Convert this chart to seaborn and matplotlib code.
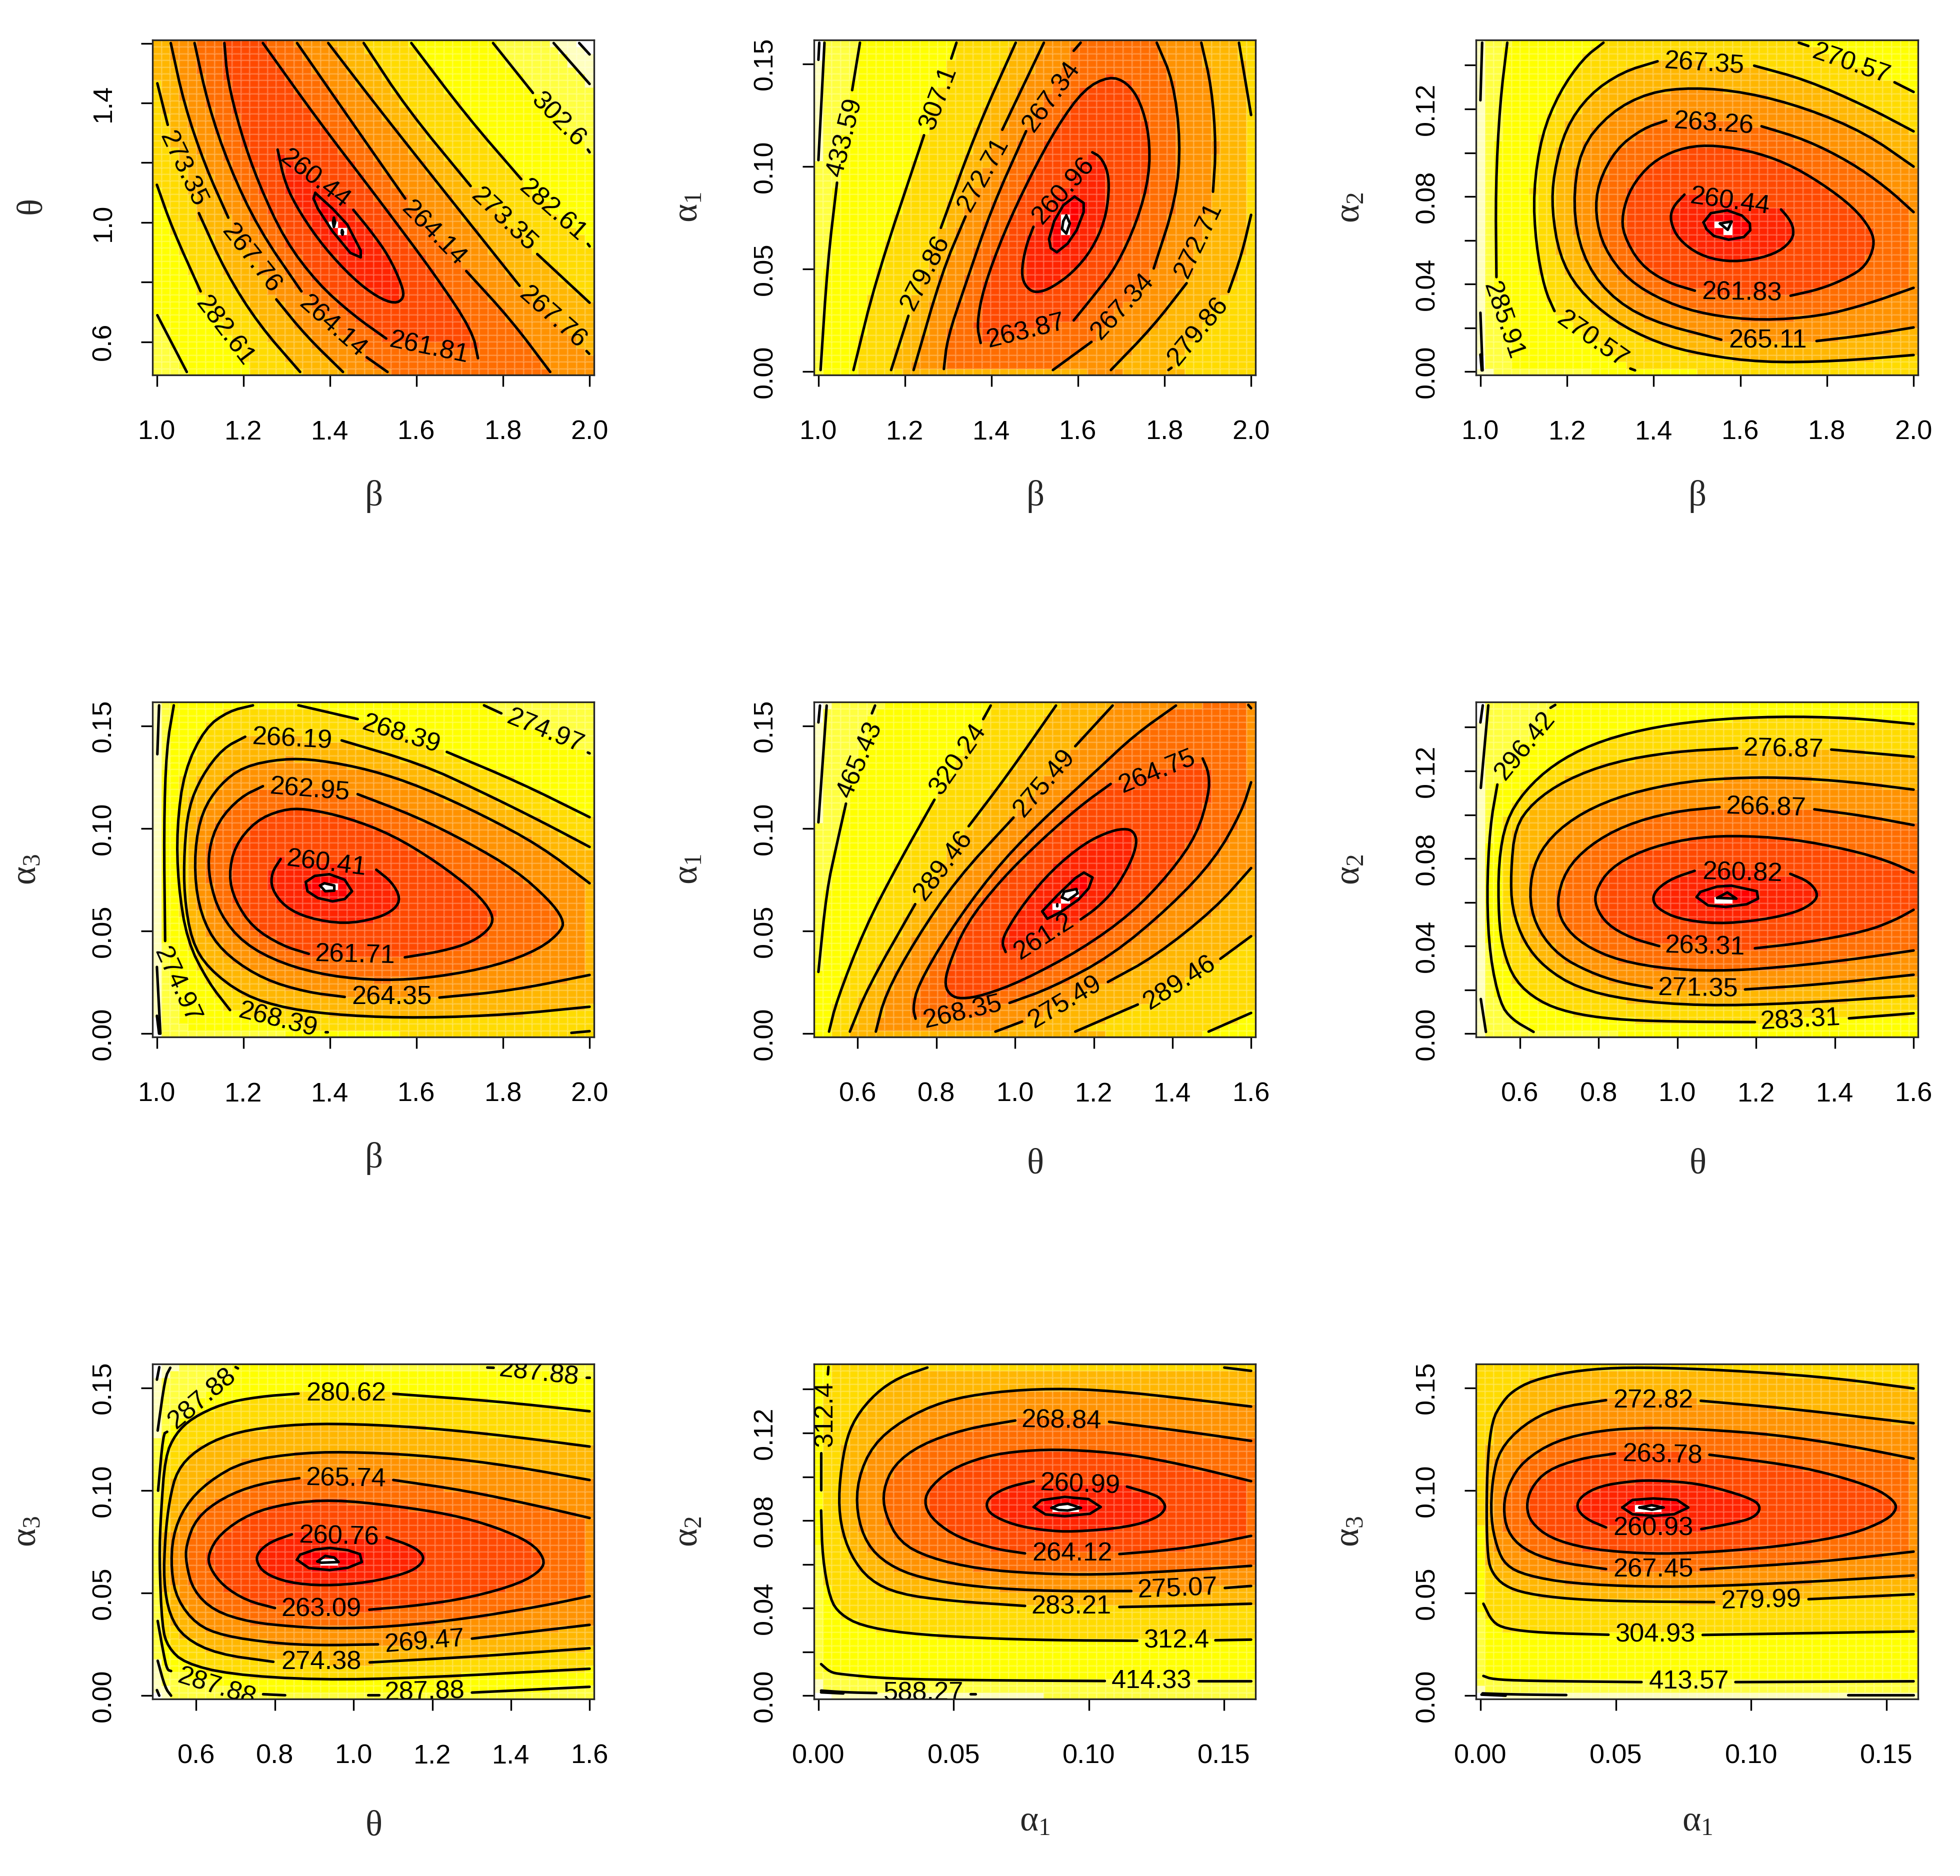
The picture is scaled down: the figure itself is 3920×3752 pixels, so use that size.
import numpy as np
import pandas as pd
import matplotlib
matplotlib.use('Agg')
import matplotlib.pyplot as plt
import matplotlib.tri as mtri
from matplotlib.colors import ListedColormap
import seaborn as sns

# ==============================================================
# axis ranges, ticks, colours
# ==============================================================
BETA = (1.0, 2.0)
THETA = (0.5, 1.6)
ALPHA_LONG = (0.0, 0.16)
ALPHA_SHORT = (0.0, 0.15)

BETA_TICKS = [1.0, 1.2, 1.4, 1.6, 1.8, 2.0]
BETA_LABELS = ['1.0', '1.2', '1.4', '1.6', '1.8', '2.0']
THETA_TICKS = [0.6, 0.8, 1.0, 1.2, 1.4, 1.6]
THETA_LABELS = ['0.6', '0.8', '1.0', '1.2', '1.4', '1.6']
THETA_Y_LABELS = ['0.6', '', '1.0', '', '1.4', '']
ALPHA_TICKS = [0.0, 0.05, 0.10, 0.15]
ALPHA_LABELS = ['0.00', '0.05', '0.10', '0.15']
ALPHA2_TICKS = [0.0, 0.02, 0.04, 0.06, 0.08, 0.10, 0.12, 0.14]
ALPHA2_LABELS = ['0.00', '', '0.04', '', '0.08', '', '0.12', '']

HEAT = ['#FF0000', '#FF2400', '#FF4900', '#FF6D00', '#FF9200', '#FFB600',
        '#FFDB00', '#FFFF00', '#FFFF40', '#FFFFBF', '#FFFFFF']

# ==============================================================
# contours: (band rank, points)
# rank 0 is the innermost contour of a panel, counted outwards
# HIDDEN = stretches of a contour that sit under a label at the frame
# ==============================================================

# ---- beta / theta
P1_LINES = [
    (0, [(1.409, 1.016), (1.407, 1.0), (1.409, .985), (1.412, 1.0), (1.409, 1.016)]),
    (0, [(1.428, .974), (1.427, .965), (1.429, .959), (1.430, .968), (1.428, .974)]),
    (1, [(1.366, 1.099), (1.406, 1.046), (1.44, .993), (1.471, .906), (1.471, .883), (1.447, .898), (1.406, .970), (1.372, 1.046), (1.362, 1.080), (1.366, 1.099)]),
    (2, [(1.279, 1.244), (1.296, 1.130), (1.331, 1.031), (1.386, .917), (1.454, .811), (1.509, .750), (1.55, .727), (1.571, .746), (1.567, .788), (1.536, .887), (1.495, .970), (1.454, 1.042)]),
    (3, [(1.156, 1.601), (1.163, 1.479), (1.193, 1.305), (1.235, 1.130), (1.296, .940), (1.372, .795), (1.454, .689), (1.530, .611)]),
    (3, [(1.245, 1.601), (1.372, 1.343), (1.509, 1.084), (1.646, .818), (1.729, .636), (1.742, .545)]),
    (4, [(1.087, 1.601), (1.118, 1.396), (1.166, 1.191), (1.235, .978), (1.334, .769)]),
    (4, [(1.485, .548), (1.533, .499)]),
    (4, [(1.324, 1.601), (1.44, 1.358), (1.574, 1.080)]),
    (4, [(1.715, .837), (1.818, .674), (1.909, .499)]),
    (5, [(1.032, 1.601), (1.063, 1.396), (1.111, 1.191), (1.165, 1.016)]),
    (5, [(1.276, .742), (1.344, .621), (1.43, .499)]),
    (5, [(1.396, 1.601), (1.509, 1.388), (1.646, 1.137), (1.838, .788)]),
    (5, [(1.993, .569), (1.999, .56)]),
    (6, [(1.001, 1.466), (1.025, 1.327)]),
    (6, [(1.097, 1.031), (1.159, .833), (1.235, .659), (1.331, .499)]),
    (6, [(1.478, 1.601), (1.578, 1.381), (1.725, 1.122)]),
    (6, [(1.879, .894), (2.0, .731)]),
    (7, [(1.0, 1.126), (1.036, .978), (1.101, .769)]),
    (7, [(1.588, 1.601), (1.715, 1.358), (1.842, 1.145)]),
    (7, [(1.996, .928), (2.0, .92)]),
    (8, [(1.001, .689), (1.069, .499)]),
    (8, [(1.777, 1.601), (1.869, 1.434)]),
    (8, [(1.996, 1.244), (2.0, 1.235)]),
    (9, [(1.917, 1.601), (2.0, 1.464)]),
    (10, [(1.976, 1.601), (2.0, 1.563)]),
]
P1_HIDDEN = [(7, [(1.101, .769), (1.214, .499)])]
P1_CORNERS = [8.6, 4.6, 5.7, 11.0]
P1_MIN_CELLS = [(1.407, .993), (1.428, .972)]
P1_LABELS = [
    ('273.35', 1.060, 1.179, -64.5), ('267.76', 1.217, .879, -51.8), ('282.61', 1.156, .636, -52.9),
    ('264.14', 1.406, .651, -41.3), ('261.81', 1.629, .579, -11.6), ('260.44', 1.365, 1.145, -37.4),
    ('264.14', 1.639, .963, -45.4), ('273.35', 1.801, 1.008, -43.3), ('282.61', 1.914, 1.039, -41.3),
    ('267.76', 1.914, .681, -41.3), ('302.6', 1.927, 1.343, -45.4),
]

# ---- beta / alpha1
P2_LINES = [
    (0, [(1.573, .0761), (1.581, .0723), (1.573, .0673), (1.563, .0695), (1.566, .0734), (1.573, .0761)]),
    (1, [(1.592, .0853), (1.613, .0822), (1.613, .0778), (1.597, .0690), (1.576, .0624), (1.551, .0582), (1.537, .0602), (1.533, .0646), (1.545, .0734), (1.566, .0811), (1.592, .0853)]),
    (2, [(1.497, .0706), (1.480, .0613), (1.470, .0503), (1.473, .0437), (1.490, .0393), (1.510, .0387), (1.539, .0409), (1.587, .0481), (1.631, .0591), (1.662, .0734), (1.672, .0877), (1.669, .0976), (1.652, .1047), (1.633, .1069)]),
    (3, [(1.375, .0140), (1.366, .0228), (1.381, .0404), (1.429, .0679), (1.490, .0954), (1.552, .1196), (1.614, .1377), (1.672, .1440), (1.713, .1410), (1.744, .1317), (1.765, .1152), (1.765, .0954), (1.737, .0734), (1.689, .0514), (1.641, .0382), (1.590, .0250)]),
    (4, [(1.29, .0013), (1.298, .0162), (1.34, .0426), (1.401, .0800), (1.48, .1172)]),
    (4, [(1.59, .1564), (1.606, .1603)]),
    (4, [(1.782, .1603), (1.82, .1416), (1.837, .1119), (1.827, .0844), (1.775, .0503)]),
    (4, [(1.631, .0145), (1.542, .0008)]),
    (5, [(1.22, .0008), (1.285, .0481), (1.34, .0756)]),
    (5, [(1.425, .1179), (1.521, .1603)]),
    (5, [(1.885, .1603), (1.909, .1383), (1.919, .1097), (1.912, .0877)]),
    (5, [(1.851, .0431), (1.772, .0217), (1.676, .0008)]),
    (6, [(1.168, .0008), (1.208, .0272)]),
    (6, [(1.283, .0701), (1.367, .1185), (1.456, .1603)]),
    (6, [(1.972, .1603), (2.0, .1251)]),
    (6, [(2.0, .0764), (1.978, .0569), (1.948, .0389)]),
    (6, [(1.809, .0008), (1.816, .0019)]),
    (7, [(1.081, .0008), (1.134, .0459), (1.244, .1152)]),
    (7, [(1.307, .1526), (1.319, .1603)]),
    (8, [(1.005, .0008), (1.021, .0525), (1.043, .0921)]),
    (8, [(1.078, .1372), (1.096, .1603)]),
    (9, [(1.0, .1031), (1.014, .1603)]),
    (10, [(1.0, .152), (1.002, .1603)]),
]
P2_HIDDEN = []
P2_CORNERS = [8.5, 6.7, 10.5, 6.3]
P2_MIN_CELLS = [(1.571, .0761), (1.571, .0734), (1.571, .0712), (1.571, .0686)]
P2_LABELS = [
    ('433.59', 1.062, .1141, 75.7), ('307.1', 1.278, .1333, 69.3), ('272.71', 1.381, .0959, 61),
    ('267.34', 1.539, .1339, 54.2), ('279.86', 1.247, .0481, 63.4), ('260.96', 1.566, .0882, 48.5),
    ('263.87', 1.48, .0195, 13.9), ('267.34', 1.703, .0316, 47.5), ('272.71', 1.878, .0640, 64.5),
    ('279.86', 1.878, .0195, 50.7),
]

# ---- beta / alpha2
P3_LINES = [
    (0, [(1.553, .0677), (1.58, .0686), (1.571, .0648), (1.553, .0677)]),
    (1, [(1.515, .0682), (1.532, .0724), (1.570, .0737), (1.604, .0713), (1.622, .0677), (1.623, .0646), (1.608, .0615), (1.573, .0603), (1.539, .0620), (1.522, .0651), (1.515, .0682)]),
    (2, [(1.471, .0809), (1.443, .0750), (1.438, .0688), (1.457, .0605), (1.505, .0533), (1.567, .0502), (1.635, .0512), (1.690, .0548), (1.721, .0605), (1.723, .0657), (1.711, .0703), (1.694, .0741)]),
    (3, [(1.495, .0370), (1.429, .0409), (1.368, .0491), (1.330, .0626), (1.327, .0719), (1.347, .0842), (1.395, .0956), (1.457, .1018), (1.525, .1037), (1.615, .1013), (1.704, .0956), (1.786, .0863), (1.862, .0750), (1.903, .0646), (1.91, .0574), (1.889, .0481), (1.848, .0429), (1.786, .0378), (1.716, .0347)]),
    (4, [(1.429, .1147), (1.375, .1111), (1.313, .1018), (1.272, .0863), (1.265, .0719), (1.285, .0564), (1.34, .0419), (1.429, .0316), (1.525, .0259), (1.649, .0233), (1.786, .0254), (1.889, .0306), (2.0, .0383)]),
    (4, [(1.649, .1121), (1.752, .1059), (1.855, .0956), (1.937, .0842), (2.0, .0729)]),
    (5, [(2.0, .0937), (1.889, .1090), (1.752, .1204), (1.615, .1276), (1.491, .1299), (1.388, .1276), (1.299, .1183), (1.23, .1018), (1.213, .0760), (1.234, .0533), (1.292, .0357), (1.388, .0233), (1.556, .0146)]),
    (5, [(1.776, .0140), (1.889, .0166), (2.0, .0202)]),
    (6, [(2.0, .1098), (1.889, .1214), (1.752, .1333), (1.632, .1398)]),
    (6, [(1.409, .1418), (1.327, .1369), (1.251, .1266), (1.196, .1111), (1.169, .0904), (1.165, .0739), (1.182, .0533), (1.224, .0378), (1.306, .0233), (1.409, .0130), (1.512, .0078), (1.649, .0042), (1.82, .0047), (2.0, .0076)]),
    (7, [(1.284, .1503), (1.237, .1431), (1.182, .1276), (1.141, .1080), (1.122, .0822), (1.128, .0584), (1.148, .0378), (1.171, .0277)]),
    (7, [(1.346, .0014), (1.357, .0006)]),
    (7, [(1.735, .1503), (1.757, .1488)]),
    (7, [(1.956, .1322), (2.0, .1278)]),
    (8, [(1.062, .1503), (1.045, .1224), (1.035, .0842), (1.037, .0432)]),
    (9, [(1.004, .1503), (1.0, .1240)]),
    (9, [(1.0, .0269), (1.005, .0006)]),
    (10, [(1.0, .0078), (1.003, .0006)]),
]
P3_HIDDEN = [(8, [(1.037, .0432), (1.073, .0006)])]
P3_CORNERS = [10.5, 6.4, 9.5, 7.5]
P3_MIN_CELLS = [(1.552, .0675), (1.571, .0675), (1.571, .0651)]
P3_LABELS = [
    ('267.35', 1.517, .1405, -3.8), ('270.57', 1.855, .1405, -18.8), ('263.26', 1.538, .1131, -3.8),
    ('260.44', 1.576, .0775, -7.7), ('261.83', 1.604, .0359, -1), ('265.11', 1.663, .0140, 0),
    ('270.57', 1.258, .0146, -35), ('285.91', 1.052, .0233, -71),
]

# ---- beta / alpha3
P4_LINES = [
    (0, [(1.377, .0722), (1.387, .0733), (1.41, .0722), (1.41, .0697), (1.389, .0694), (1.377, .0722)]),
    (1, [(1.344, .0739), (1.365, .0769), (1.399, .0777), (1.434, .0750), (1.451, .0694), (1.434, .0656), (1.406, .0645), (1.372, .0661), (1.348, .0694), (1.344, .0739)]),
    (2, [(1.286, .0851), (1.265, .0783), (1.265, .0705), (1.296, .0617), (1.351, .0562), (1.434, .0534), (1.509, .0562), (1.55, .0606), (1.563, .0661), (1.543, .0739), (1.507, .0799)]),
    (3, [(1.351, .0389), (1.289, .0429), (1.221, .0518), (1.18, .0650), (1.166, .0772), (1.18, .0915), (1.228, .1037), (1.289, .1092), (1.344, .1097), (1.44, .1053), (1.543, .0970), (1.646, .0838), (1.735, .0694), (1.777, .0584), (1.773, .0518), (1.729, .0446), (1.66, .0402), (1.573, .0372)]),
    (4, [(1.245, .1206), (1.193, .1153), (1.142, .1037), (1.119, .0893), (1.121, .0750), (1.145, .0584), (1.2, .0440), (1.289, .0341), (1.40, .0280), (1.523, .0258), (1.646, .0275), (1.783, .0330), (1.886, .0413), (1.938, .0507), (1.938, .0562), (1.907, .0650), (1.831, .0794), (1.715, .0937), (1.598, .1059), (1.464, .1167)]),
    (5, [(2.0, .0733), (1.886, .0915), (1.749, .1070), (1.612, .1202), (1.495, .1285), (1.372, .1335), (1.289, .1340), (1.2, .1302), (1.145, .1213), (1.104, .1081), (1.087, .0893), (1.091, .0672), (1.118, .0496), (1.166, .0374), (1.248, .0264), (1.344, .0203), (1.434, .0179)]),
    (5, [(1.653, .0176), (1.818, .0209), (2.0, .0286)]),
    (6, [(2.0, .0910), (1.886, .1037), (1.749, .1180), (1.612, .1313), (1.427, .1429)]),
    (6, [(1.204, .1447), (1.152, .1390), (1.104, .1257), (1.073, .1103), (1.063, .0893), (1.063, .0672), (1.08, .0452), (1.118, .0319), (1.2, .0187), (1.303, .0120), (1.44, .0087), (1.612, .0076), (1.818, .0093), (2.0, .0131)]),
    (7, [(1.222, .1600), (1.166, .1572), (1.111, .1489), (1.063, .1280), (1.046, .1004), (1.049, .0728), (1.07, .0452), (1.118, .0253), (1.169, .0115)]),
    (7, [(1.39, .0007), (1.394, .0007)]),
    (7, [(1.327, .1600), (1.464, .1533)]),
    (7, [(1.67, .1373), (1.838, .1224), (2.0, .1055)]),
    (7, [(1.958, .0004), (2.0, .0012)]),
    (8, [(1.039, .1600), (1.022, .1390), (1.016, .1004), (1.019, .0452)]),
    (8, [(1.756, .1600), (1.796, .1561)]),
    (8, [(1.996, .1370), (2.0, .1366)]),
    (9, [(1.005, .1600), (1.001, .1362)]),
    (9, [(1.0, .0325), (1.008, .0)]),
    (10, [(1.0, .0087), (1.005, .0)]),
]
P4_HIDDEN = [(8, [(1.019, .0452), (1.067, .0004)])]
P4_CORNERS = [10.5, 6.7, 9.2, 8.5]
P4_MIN_CELLS = [(1.389, .0722), (1.406, .0722)]
P4_LABELS = [
    ('266.19', 1.313, .1434, -3), ('268.39', 1.564, .1456, -17.2), ('274.97', 1.897, .1473, -22),
    ('262.95', 1.353, .1186, -4.6), ('260.41', 1.392, .0827, -6.9), ('261.71', 1.458, .0380, -1.5),
    ('264.35', 1.543, .0176, 0), ('268.39', 1.279, .0065, -13.9), ('274.97', 1.046, .0236, -65.4),
]

# ---- theta / alpha1
P5_LINES = [
    (0, [(1.119, .0664), (1.125, .0692), (1.156, .0705), (1.159, .0684), (1.135, .0651), (1.119, .0664)]),
    (0, [(1.107, .0631), (1.107, .0623)]),
    (1, [(1.069, .0596), (1.108, .0675), (1.153, .0758), (1.175, .0785), (1.197, .0761), (1.187, .0708), (1.161, .0653), (1.116, .0593), (1.082, .0560), (1.069, .0596)]),
    (2, [(.976, .0398), (.966, .0444), (.98, .0510), (1.025, .0642), (1.093, .0796), (1.176, .0928), (1.244, .0989), (1.286, .1000), (1.304, .0978), (1.31, .0928), (1.293, .0829), (1.252, .0697), (1.206, .0609), (1.167, .0557)]),
    (3, [(1.243, .1217), (1.169, .1115), (1.07, .0950), (.965, .0752), (.874, .0532), (.829, .0323), (.821, .0235), (.836, .0186), (.863, .0169), (.919, .0186), (1.018, .0257), (1.169, .0411), (1.297, .0587), (1.395, .0785), (1.463, .0972), (1.493, .1170), (1.493, .1269), (1.477, .1341)]),
    (4, [(.747, .0073), (.74, .0125), (.753, .0235), (.829, .0488), (.942, .0785), (1.055, .1016), (1.206, .1280), (1.304, .1456), (1.409, .1599)]),
    (4, [(.986, .0150), (1.093, .0224), (1.244, .0378), (1.395, .0620), (1.508, .0851), (1.576, .1082), (1.6, .1225)]),
    (4, [(1.593, .1602), (1.6, .1586)]),
    (5, [(.646, .0010), (.67, .0191), (.746, .0455), (.851, .0752), (.996, .1053)]),
    (5, [(1.153, .1401), (1.248, .1599)]),
    (5, [(.95, .0010), (1.018, .0059)]),
    (5, [(1.236, .0252), (1.357, .0378), (1.508, .0609), (1.6, .0807)]),
    (6, [(.58, .0010), (.625, .0224), (.746, .0631)]),
    (6, [(.882, .1011), (.98, .1258), (1.104, .1599)]),
    (6, [(1.153, .0010), (1.312, .0142)]),
    (6, [(1.522, .0365), (1.6, .0475)]),
    (7, [(.527, .0010), (.546, .0158), (.617, .0510), (.70, .0818), (.795, .1140)]),
    (7, [(.919, .1533), (.938, .1599)]),
    (7, [(1.492, .0010), (1.6, .0101)]),
    (8, [(.5, .0301), (.521, .0697), (.546, .0917), (.57, .1121)]),
    (8, [(.636, .1561), (.644, .1599)]),
    (9, [(.5, .1030), (.521, .1599)]),
    (10, [(.5, .1517), (.504, .1599)]),
]
P5_HIDDEN = []
P5_CORNERS = [7.5, 7.4, 10.5, 4.2]
P5_MIN_CELLS = [(1.129, .0692), (1.15, .0692), (1.107, .0626), (1.129, .0651)]
P5_LABELS = [
    ('465.43', .606, .1335, 67), ('320.24', .855, .1335, 55.3), ('275.49', 1.074, .1220, 49.6),
    ('264.75', 1.361, .1275, 22), ('289.46', .817, .0818, 52.9), ('261.2', 1.074, .0472, 32.6),
    ('268.35', .867, .0103, 13.1), ('275.49', 1.127, .0153, 30.8), ('289.46', 1.418, .0246, 32.6),
]

# ---- theta / alpha2
P6_LINES = [
    (0, [(1.101, .0620), (1.127, .0645), (1.15, .0617), (1.101, .0620)]),
    (1, [(1.049, .0624), (1.059, .0648), (1.101, .0672), (1.138, .0676), (1.202, .0651), (1.205, .0617), (1.176, .0591), (1.123, .0579), (1.078, .0586), (1.049, .0624)]),
    (2, [(1.044, .0744), (.988, .0710), (.95, .0664), (.936, .0617), (.95, .0571), (1.003, .0524), (1.101, .0501), (1.214, .0519), (1.304, .0555), (1.349, .0602), (1.357, .0643), (1.334, .0695), (1.287, .0730)]),
    (3, [(.954, .0400), (.882, .0437), (.822, .0498), (.792, .0581), (.792, .0653), (.829, .0756), (.912, .0839), (1.025, .0891), (1.138, .0906), (1.289, .0891), (1.44, .0839), (1.538, .0787), (1.6, .0736)]),
    (3, [(1.197, .0390), (1.327, .0416), (1.478, .0467), (1.553, .0519), (1.6, .0566)]),
    (4, [(1.107, .1035), (.988, .1014), (.867, .0953), (.776, .0860), (.716, .0746), (.693, .0602), (.709, .0498), (.761, .0406), (.852, .0333), (.988, .0292), (1.138, .0287), (1.289, .0308), (1.44, .0338), (1.6, .0380)]),
    (4, [(1.348, .1025), (1.478, .0994), (1.6, .0953)]),
    (5, [(1.6, .1115), (1.44, .1151), (1.289, .1169), (1.176, .1171), (1.025, .1154), (.874, .1097), (.761, .1014), (.678, .0901), (.633, .0767), (.624, .0602), (.648, .0467), (.701, .0354), (.776, .0282), (.852, .0235), (.935, .0209)]),
    (5, [(1.172, .0202), (1.365, .0225), (1.6, .0269)]),
    (6, [(1.152, .1305), (.988, .1288), (.837, .1241), (.716, .1159), (.633, .1056), (.588, .0942), (.577, .0736), (.58, .0571), (.611, .0416), (.663, .0302), (.746, .0209), (.874, .0153), (1.063, .0127), (1.289, .0137), (1.6, .0173)]),
    (6, [(1.391, .1298), (1.6, .1265)]),
    (7, [(1.6, .1415), (1.44, .1443), (1.251, .1450), (1.063, .1432), (.912, .1391), (.784, .1324), (.686, .1231), (.611, .1107), (.565, .0973), (.546, .0787), (.546, .0529), (.558, .0375), (.588, .0240), (.648, .0148), (.724, .0096), (.837, .0065), (.988, .0055), (1.197, .0053)]),
    (7, [(1.436, .0070), (1.6, .0093)]),
    (8, [(.543, .1138), (.524, .0942), (.516, .0633), (.524, .0354), (.55, .0137), (.58, .0065), (.635, .0008)]),
    (8, [(.678, .1489), (.69, .1502)]),
    (9, [(.501, .1123), (.52, .1500)]),
    (9, [(.501, .0158), (.514, .0008)]),
    (10, [(.5, .1422), (.506, .1500)]),
]
P6_HIDDEN = [(8, [(.543, .1138), (.678, .1489)])]
P6_CORNERS = [9.4, 7.3, 10.5, 7.4]
P6_MIN_CELLS = [(1.108, .0614), (1.131, .0614)]
P6_LABELS = [
    ('296.42', .614, .1314, 50.7), ('276.87', 1.27, .1298, -1), ('266.87', 1.225, .1030, -1.5),
    ('260.82', 1.165, .0731, -1.5), ('263.31', 1.07, .0395, -1.5), ('271.35', 1.052, .0204, -1),
    ('283.31', 1.312, .0060, 3),
]

# ---- theta / alpha3
P7_LINES = [
    (0, [(.908, .0654), (.928, .0681), (.951, .0673), (.962, .0651), (.918, .0648), (.908, .0654)]),
    (1, [(.856, .0662), (.864, .0687), (.902, .0712), (.939, .0720), (.985, .0709), (1.016, .0690), (1.021, .0651), (.985, .0623), (.939, .0612), (.887, .0621), (.856, .0662)]),
    (2, [(.843, .0786), (.789, .0750), (.758, .0701), (.752, .0656), (.773, .0596), (.834, .0551), (.924, .0535), (1.037, .0551), (1.135, .0596), (1.173, .0640), (1.179, .0684), (1.15, .0728), (1.084, .0772)]),
    (3, [(.80, .0427), (.728, .0463), (.668, .0535), (.634, .0623), (.63, .0690), (.66, .0789), (.736, .0888), (.834, .0938), (.947, .0955), (1.098, .0927), (1.248, .0883), (1.362, .0822), (1.452, .0745), (1.486, .0667), (1.478, .0612), (1.422, .0546), (1.301, .0480), (1.173, .0441), (1.04, .0419)]),
    (4, [(.862, .1060), (.758, .1032), (.668, .0966), (.6, .0866), (.574, .0734), (.574, .0645), (.592, .0513), (.645, .0413), (.736, .0358), (.849, .0336), (.947, .0327), (1.098, .0336), (1.286, .0375), (1.475, .0435), (1.6, .0485)]),
    (4, [(1.101, .1051), (1.286, .0999), (1.475, .0922), (1.6, .0866)]),
    (5, [(1.6, .1051), (1.399, .1120), (1.211, .1165), (1.022, .1187), (.871, .1185), (.721, .1143), (.63, .1043), (.57, .0922), (.54, .0778), (.536, .0612), (.551, .0469), (.6, .0347), (.668, .0292), (.796, .0256), (.909, .0245), (1.062, .0250)]),
    (5, [(1.301, .0278), (1.6, .0345)]),
    (6, [(1.6, .1214), (1.399, .1264), (1.173, .1308), (.947, .1328), (.796, .1314), (.683, .1275), (.6, .1198), (.551, .1098), (.532, .0955), (.521, .0778), (.517, .0557), (.532, .0391), (.57, .0281), (.653, .0203), (.796, .0165)]),
    (6, [(1.041, .0162), (1.324, .0192), (1.6, .0231)]),
    (7, [(1.6, .1386), (1.362, .1435), (1.101, .1471)]),
    (7, [(.86, .1472), (.758, .1457), (.668, .1424), (.589, .1353), (.547, .1275), (.521, .1165), (.51, .0888), (.506, .0667), (.513, .0336), (.528, .0236), (.57, .0159), (.683, .0104), (.909, .0076), (1.173, .0087), (1.6, .0131)]),
    (8, [(.503, .0999), (.516, .1275), (.526, .1286)]),
    (8, [(.70, .1601), (.706, .1595)]),
    (8, [(.502, .0364), (.517, .0203), (.526, .0126), (.536, .0120)]),
    (8, [(.77, .0007), (.826, .0002)]),
    (8, [(1.037, .0002), (1.064, .0002)]),
    (8, [(1.301, .0015), (1.6, .0043)]),
    (8, [(1.34, .1599), (1.356, .1598)]),
    (8, [(1.592, .1551), (1.6, .1551)]),
    (9, [(.502, .1292), (.521, .1551), (.534, .1598)]),
    (9, [(.502, .0170), (.521, .0038), (.536, .0)]),
    (10, [(.5, .1540), (.506, .1601)]),
    (10, [(.5, .0027), (.506, .0)]),
]
P7_HIDDEN = []
P7_CORNERS = [10.5, 8.1, 10.5, 8.2]
P7_MIN_CELLS = [(.928, .0648), (.948, .0648)]
P7_LABELS = [
    ('287.88', .615, .1446, 40.3), ('287.88', 1.471, .1568, -6.1), ('280.62', .981, .1469, 0),
    ('265.74', .981, .1054, -1), ('260.76', .963, .0772, -1.5), ('263.09', .918, .0419, 0),
    ('269.47', 1.181, .0259, 4.6), ('274.38', .918, .0161, 0), ('287.88', .651, .0038, -17.2),
    ('287.88', 1.181, .0015, 1.5),
]

# ---- alpha1 / alpha2
P8_LINES = [
    (0, [(.0862, .0858), (.0889, .0872), (.0922, .0877), (.0971, .0858), (.0922, .0846), (.0889, .0848), (.0862, .0858)]),
    (1, [(.0796, .0862), (.0824, .0893), (.0911, .0908), (.0999, .0898), (.1044, .0862), (.1004, .0831), (.0911, .0820), (.0840, .0828), (.0796, .0862)]),
    (2, [(.0796, .0980), (.0704, .0955), (.0638, .0913), (.0618, .0872), (.0638, .0826), (.0725, .0779), (.0835, .0755), (.0944, .0748), (.1141, .0769), (.1250, .0810), (.1288, .0857), (.1266, .0903), (.1228, .0924), (.1141, .0955)]),
    (3, [(.0764, .0650), (.0649, .0671), (.0518, .0722), (.0430, .0795), (.0392, .0867), (.0403, .0939), (.0485, .1032), (.0616, .1094), (.0758, .1120), (.0922, .1125), (.1141, .1104), (.1359, .1053), (.16, .0980)]),
    (3, [(.1113, .0647), (.1304, .0666), (.1468, .0697), (.16, .0730)]),
    (4, [(.0728, .1257), (.0540, .1218), (.0376, .1146), (.0278, .1053), (.0239, .0939), (.0245, .0836), (.0299, .0702), (.0409, .0630), (.0594, .0578), (.0813, .0557), (.1031, .0552), (.1304, .0568), (.16, .0593)]),
    (4, [(.1075, .1251), (.1359, .1207), (.16, .1164)]),
    (5, [(.16, .1321), (.1359, .1357), (.1086, .1393), (.0867, .1404), (.0649, .1388), (.0463, .1347), (.0310, .1259), (.0201, .1146), (.0146, .0991), (.0141, .0836), (.0179, .0691), (.0256, .0599), (.0376, .0537), (.0594, .0495), (.0867, .0477), (.1157, .0478)]),
    (5, [(.1503, .0492), (.16, .0501)]),
    (6, [(.0403, .1499), (.0299, .1455), (.0212, .1383), (.0135, .1269), (.0097, .1146), (.0075, .0939), (.0081, .0784), (.0119, .0640), (.0190, .0526), (.0299, .0464), (.0485, .0433), (.0764, .0410)]),
    (6, [(.1113, .0405), (.1359, .0411), (.16, .0420)]),
    (6, [(.1501, .1499), (.16, .1484)]),
    (7, [(.0037, .1502), (.0035, .1468)]),
    (7, [(.001, .1109), (.001, .0939)]),
    (7, [(.001, .0846), (.0015, .0630), (.0043, .0439), (.0081, .0372), (.0157, .0320), (.0321, .0284), (.0594, .0263), (.0867, .0253), (.1179, .0251)]),
    (7, [(.1468, .0253), (.16, .0256)]),
    (8, [(.001, .0144), (.0043, .0108), (.0081, .0098), (.0267, .0077), (.0594, .0070), (.1059, .0067)]),
    (8, [(.1405, .0067), (.16, .0067)]),
    (9, [(.001, .0023), (.0103, .0015), (.0214, .0012)]),
    (9, [(.0562, .0008), (.0581, .0008)]),
    (10, [(.001, .0015), (.0092, .0010)]),
]
P8_HIDDEN = []
P8_CORNERS = [10.5, 8.6, 7.3, 6.2]
P8_MIN_CELLS = [(.0889, .0862), (.0922, .0862), (.0953, .0862)]
P8_LABELS = [
    ('312.4', .0026, .1285, 90), ('268.84', .0898, .1254, -1), ('260.99', .0968, .0962, -2.3),
    ('264.12', .0938, .0648, 0), ('275.07', .1328, .0485, 2.3), ('283.21', .0935, .0405, 0),
    ('312.4', .1324, .0250, 0), ('414.33', .1231, .0065, 0), ('588.27', .0389, .0010, 0),
]

# ---- alpha1 / alpha3
P9_LINES = [
    (0, [(.0587, .0917), (.0633, .0928), (.0677, .0917), (.0633, .0906), (.0587, .0917)]),
    (1, [(.0524, .0917), (.0562, .0954), (.0639, .0961), (.0726, .0954), (.0768, .0917), (.0715, .0884), (.0639, .0876), (.0562, .0884), (.0524, .0917)]),
    (2, [(.0464, .0820), (.0388, .0862), (.0353, .0917), (.0371, .0972), (.0442, .1022), (.0551, .1044), (.0628, .1050), (.0770, .1039), (.0879, .1011), (.1010, .0956), (.1037, .0914), (.1010, .0867), (.0934, .0840), (.0816, .0812)]),
    (3, [(.0497, .1180), (.0366, .1155), (.0246, .1099), (.0186, .1011), (.0169, .0923), (.0186, .0845), (.0257, .0768), (.0388, .0718), (.0551, .0696), (.0715, .0691), (.0934, .0707), (.1152, .0735), (.1370, .0785), (.1502, .0856), (.1540, .0912), (.1523, .0956), (.1458, .1011), (.1316, .1072), (.1152, .1122), (.0846, .1174)]),
    (4, [(.16, .1155), (.1370, .1216), (.1097, .1271), (.0824, .1298), (.0628, .1307), (.0442, .1293), (.0278, .1243), (.0158, .1144), (.0104, .1033), (.0084, .0923), (.0098, .0801), (.0158, .0713), (.0278, .0652), (.0464, .0617)]),
    (4, [(.0814, .0615), (.1261, .0652), (.16, .0702)]),
    (5, [(.0464, .1440), (.0278, .1403), (.0158, .1320), (.0071, .1199), (.0044, .1055), (.0038, .0867), (.0060, .0724), (.0093, .0635), (.0169, .0586), (.0333, .0547), (.0606, .0530), (.0879, .0534), (.1261, .0558), (.16, .0586)]),
    (5, [(.0814, .1437), (.1152, .1398), (.16, .1328)]),
    (6, [(.16, .1497), (.1316, .1547), (.0988, .1580), (.0715, .1597), (.0497, .1599), (.0333, .1580), (.0191, .1536), (.0115, .1481), (.0076, .1420), (.0044, .1343), (.0027, .1166), (.0022, .0890), (.0027, .0669), (.0044, .0597), (.0087, .0536), (.0169, .0497), (.0333, .0470), (.0551, .0459), (.0863, .0456)]),
    (6, [(.1212, .0470), (.16, .0494)]),
    (7, [(.0011, .0448), (.0044, .0359), (.0093, .0326), (.0224, .0306), (.0473, .0297)]),
    (7, [(.0821, .0296), (.16, .0313)]),
    (8, [(.0011, .0096), (.0044, .0080), (.0169, .0072), (.0595, .0066)]),
    (8, [(.0942, .0066), (.16, .0070)]),
    (9, [(.0008, .0011), (.0115, .0006), (.0317, .0003)]),
    (9, [(.1357, .0003), (.16, .0003)]),
    (10, [(.0004, .0005), (.0093, .0)]),
]
P9_HIDDEN = []
P9_CORNERS = [10.5, 9.2, 6.4, 6.3]
P9_MIN_CELLS = [(.0595, .0917), (.0628, .0917), (.0661, .0917)]
P9_LABELS = [
    ('272.82', .0639, .1437, 0), ('263.78', .0672, .1171, -1.5), ('260.93', .0639, .0814, 0),
    ('267.45', .0639, .0613, 0), ('279.99', .1037, .0461, 1.5), ('304.93', .0646, .0295, 0),
    ('413.57', .0770, .0066, 0),
]

# ==============================================================
# style
# ==============================================================
sns.set_theme(style='ticks', rc={'axes.linewidth': 0.8, 'xtick.major.width': 0.8, 'ytick.major.width': 0.8,
                                 'xtick.major.size': 5.5, 'ytick.major.size': 5.5})
plt.rcParams['font.family'] = ['Liberation Sans', 'DejaVu Sans']
plt.rcParams['mathtext.fontset'] = 'custom'
plt.rcParams['mathtext.rm'] = 'Liberation Serif'
plt.rcParams['mathtext.it'] = 'Liberation Serif'
plt.rcParams['mathtext.bf'] = 'Liberation Serif'

W, H = 3920, 3752
COLS = [(305, 1188), (1628, 2511), (2952, 3836)]
ROWS = [(80, 750), (1404, 2074), (2728, 3398)]
XLABEL_Y = {r'$\beta$': -0.3625, r'$\theta$': -0.38, r'$\alpha_1$': -0.3655}
YLABEL_X = {r'$\theta$': -0.27, r'$\alpha_1$': -0.285, r'$\alpha_2$': -0.285, r'$\alpha_3$': -0.285}
heat_cmap = ListedColormap(HEAT)


def walk(a, b, step=0.012):
    # points along one straight stretch, only used to tie the cells to the contours
    n = max(int(np.hypot(b[0] - a[0], b[1] - a[1]) / step), 1)
    return [(a[0] + (b[0] - a[0]) * t, a[1] + (b[1] - a[1]) * t) for t in np.linspace(0, 1, n + 1)]


def round_corners(line, passes=2):
    # drawn lines only: cut the corners of the read polyline, ends stay put
    pts = np.array(line, dtype=float)
    if len(pts) < 3:
        return pts
    closed = np.allclose(pts[0], pts[-1])
    for _ in range(passes):
        q = 0.75 * pts[:-1] + 0.25 * pts[1:]
        r = 0.25 * pts[:-1] + 0.75 * pts[1:]
        cut = np.empty((2 * len(q), 2))
        cut[0::2] = q
        cut[1::2] = r
        if closed:
            pts = np.vstack([cut, cut[0]])
        else:
            pts = np.vstack([pts[0], cut, pts[-1]])
    return pts


def draw_panel(ax, lines, hidden, corners, min_cells, labels, x_range, y_range):
    dx = (x_range[1] - x_range[0]) / 49 / 2
    dy = (y_range[1] - y_range[0]) / 49 / 2
    xlim = (x_range[0] - dx, x_range[1] + dx)
    ylim = (y_range[0] - dy, y_range[1] + dy)

    def unit(p):
        return ((p[0] - xlim[0]) / (xlim[1] - xlim[0]), (p[1] - ylim[0]) / (ylim[1] - ylim[0]))

    # band index of each image cell, from the contour points
    pts = {}

    def add(rank, a, b):
        for p in walk(a, b):
            pts[(round(p[0], 5), round(p[1], 5))] = rank

    for i, (rank, line) in enumerate(lines):
        u = [unit(p) for p in line]
        for a, b in zip(u[:-1], u[1:]):
            add(rank, a, b)
        # bridge the gap a label leaves in a contour
        if i + 1 < len(lines) and lines[i + 1][0] == rank:
            nxt = unit(lines[i + 1][1][0])
            if np.hypot(nxt[0] - u[-1][0], nxt[1] - u[-1][1]) < 0.3:
                add(rank, u[-1], nxt)
        elif rank > 1 and np.hypot(u[0][0] - u[-1][0], u[0][1] - u[-1][1]) < 0.3:
            add(rank, u[-1], u[0])
    for rank, line in hidden:
        u = [unit(p) for p in line]
        for a, b in zip(u[:-1], u[1:]):
            add(rank, a, b)
    pts[(0.0, 0.0)] = corners[0]
    pts[(1.0, 0.0)] = corners[1]
    pts[(0.0, 1.0)] = corners[2]
    pts[(1.0, 1.0)] = corners[3]
    px = np.array([p[0] for p in pts])
    py = np.array([p[1] for p in pts])
    pz = np.array(list(pts.values()), dtype=float)
    tri = mtri.Triangulation(px, py)
    interp = mtri.LinearTriInterpolator(tri, pz)
    finder = tri.get_trifinder()

    gx = np.linspace(x_range[0], x_range[1], 50)
    gy = np.linspace(y_range[0], y_range[1], 50)
    mx, my = np.meshgrid(gx, gy)
    ux = (mx - xlim[0]) / (xlim[1] - xlim[0])
    uy = (my - ylim[0]) / (ylim[1] - ylim[0])
    band = np.floor(np.ma.filled(interp(ux, uy), 5.0) + 1e-6)

    # a triangle with one rank on all corners sits between two branches of a
    # contour, so it belongs to the band on the inner side of that contour
    found = finder(ux, uy)
    corner_z = pz[tri.triangles[found]]
    flat = (found >= 0) & (corner_z.max(axis=-1) == corner_z.min(axis=-1))
    band[flat] = corner_z[flat][:, 0] - 1

    band = np.clip(band, 0, 10)
    for x, y in min_cells:
        band[np.abs(gy - y).argmin(), np.abs(gx - x).argmin()] = 10

    ax.pcolormesh(gx, gy, band, cmap=heat_cmap, vmin=-0.5, vmax=10.5, shading='nearest',
                  edgecolors=(1, 1, 1, 0.18), linewidth=0.35, rasterized=True)

    # contour lines
    rows = []
    for i, (rank, line) in enumerate(lines):
        drawn = line if rank < 2 else round_corners(line)
        for x, y in drawn:
            rows.append((x, y, i))
    df = pd.DataFrame(rows, columns=['x', 'y', 'piece'])
    sns.lineplot(data=df, x='x', y='y', units='piece', estimator=None, sort=False, color='black',
                 linewidth=1.25, solid_capstyle='round', solid_joinstyle='round', legend=False, ax=ax)

    for text, x, y, rot in labels:
        ax.text(x, y, text, rotation=rot, rotation_mode='anchor', ha='center', va='center',
                fontsize=12.6, color='black', clip_on=True)

    ax.set_xlim(xlim)
    ax.set_ylim(ylim)


# ==============================================================
# panels
# ==============================================================
fig = plt.figure(figsize=(W / 300, H / 300), dpi=300)

panels = [
    (P1_LINES, P1_HIDDEN, P1_CORNERS, P1_MIN_CELLS, P1_LABELS, BETA, THETA, r'$\beta$', r'$\theta$', BETA_TICKS, BETA_LABELS, THETA_TICKS, THETA_Y_LABELS),
    (P2_LINES, P2_HIDDEN, P2_CORNERS, P2_MIN_CELLS, P2_LABELS, BETA, ALPHA_LONG, r'$\beta$', r'$\alpha_1$', BETA_TICKS, BETA_LABELS, ALPHA_TICKS, ALPHA_LABELS),
    (P3_LINES, P3_HIDDEN, P3_CORNERS, P3_MIN_CELLS, P3_LABELS, BETA, ALPHA_SHORT, r'$\beta$', r'$\alpha_2$', BETA_TICKS, BETA_LABELS, ALPHA2_TICKS, ALPHA2_LABELS),
    (P4_LINES, P4_HIDDEN, P4_CORNERS, P4_MIN_CELLS, P4_LABELS, BETA, ALPHA_LONG, r'$\beta$', r'$\alpha_3$', BETA_TICKS, BETA_LABELS, ALPHA_TICKS, ALPHA_LABELS),
    (P5_LINES, P5_HIDDEN, P5_CORNERS, P5_MIN_CELLS, P5_LABELS, THETA, ALPHA_LONG, r'$\theta$', r'$\alpha_1$', THETA_TICKS, THETA_LABELS, ALPHA_TICKS, ALPHA_LABELS),
    (P6_LINES, P6_HIDDEN, P6_CORNERS, P6_MIN_CELLS, P6_LABELS, THETA, ALPHA_SHORT, r'$\theta$', r'$\alpha_2$', THETA_TICKS, THETA_LABELS, ALPHA2_TICKS, ALPHA2_LABELS),
    (P7_LINES, P7_HIDDEN, P7_CORNERS, P7_MIN_CELLS, P7_LABELS, THETA, ALPHA_LONG, r'$\theta$', r'$\alpha_3$', THETA_TICKS, THETA_LABELS, ALPHA_TICKS, ALPHA_LABELS),
    (P8_LINES, P8_HIDDEN, P8_CORNERS, P8_MIN_CELLS, P8_LABELS, ALPHA_LONG, ALPHA_SHORT, r'$\alpha_1$', r'$\alpha_2$', ALPHA_TICKS, ALPHA_LABELS, ALPHA2_TICKS, ALPHA2_LABELS),
    (P9_LINES, P9_HIDDEN, P9_CORNERS, P9_MIN_CELLS, P9_LABELS, ALPHA_LONG, ALPHA_LONG, r'$\alpha_1$', r'$\alpha_3$', ALPHA_TICKS, ALPHA_LABELS, ALPHA_TICKS, ALPHA_LABELS),
]

for i, panel in enumerate(panels):
    lines, hidden, corners, min_cells, labels, x_range, y_range, xname, yname, xt, xl, yt, yl = panel
    left, right = COLS[i % 3]
    top, bottom = ROWS[i // 3]
    ax = fig.add_axes([left / W, 1 - bottom / H, (right - left) / W, (bottom - top) / H])
    draw_panel(ax, lines, hidden, corners, min_cells, labels, x_range, y_range)

    ax.set_xticks(xt, xl)
    ax.set_yticks(yt, yl)
    ax.tick_params(axis='x', labelsize=13, pad=16, colors='black')
    ax.tick_params(axis='y', labelsize=13, pad=12, colors='black')
    for t in ax.get_yticklabels():
        t.set_rotation(90)
        t.set_va('center')
    ax.set_xlabel(xname, fontsize=17, va='center')
    ax.set_ylabel(yname, fontsize=17, va='center')
    ax.xaxis.set_label_coords(0.5, XLABEL_Y[xname])
    ax.yaxis.set_label_coords(YLABEL_X[yname], 0.5)
    for s in ax.spines.values():
        s.set_visible(True)

fig.savefig('out.png', dpi=300)
